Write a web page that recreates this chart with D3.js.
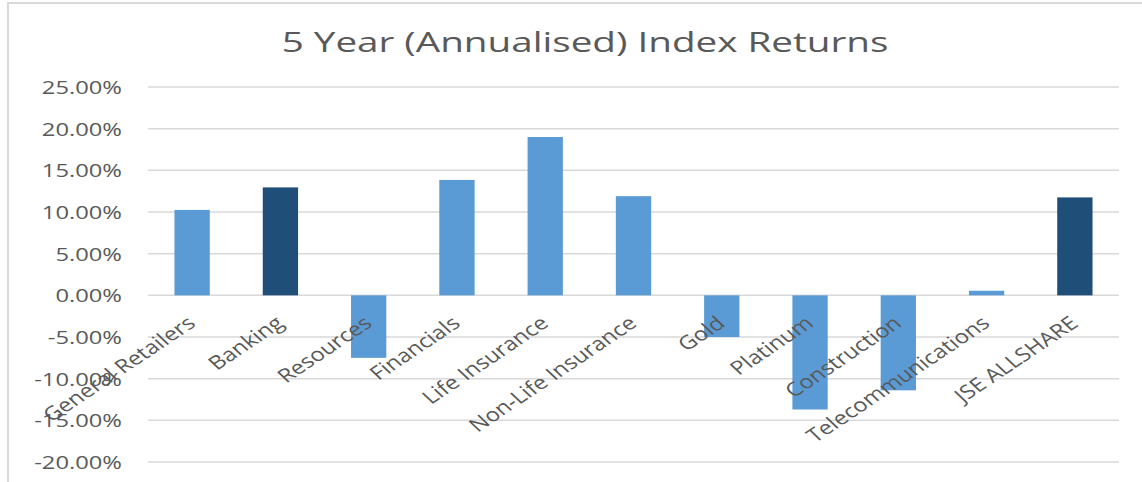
<!DOCTYPE html>
<html>
<head>
<meta charset="utf-8">
<script src="https://cdn.jsdelivr.net/npm/d3@7"></script>
<style>
  body { margin: 0; background: #fff; }
  text { font-family: "Open Sans", sans-serif; fill: #595959; }
</style>
</head>
<body>
<script>
var categories = ['General Retailers','Banking','Resources','Financials','Life Insurance','Non-Life Insurance','Gold','Platinum','Construction','Telecommunications','JSE ALLSHARE'];
var returns = [10.25, 12.95, -7.5, 13.85, 19.0, 11.9, -5.0, -13.7, -11.4, 0.55, 11.75];
var highlight = ['Banking','JSE ALLSHARE'];
var yTicks = [-20,-15,-10,-5,0,5,10,15,20,25];
var title = '5 Year (Annualised) Index Returns';

var W = 1142, H = 482;
var sx = 1.25; // text in the picture is stretched sideways
var svg = d3.select('body').append('svg').attr('width',W).attr('height',H);

// chart frame (cropped on right/bottom)
svg.append('path').attr('d','M8,' + (H+5) + 'V3H' + (W+5))
  .style('fill','none').style('stroke','#d9d9d9').style('stroke-width',2);

var x = d3.scaleBand().domain(categories).range([148,1119]).paddingInner(0.6).paddingOuter(0.3);
var y = d3.scaleLinear().domain([-20,25]).range([462,87]);

// grid
svg.append('g').selectAll('line').data(yTicks).enter().append('line')
  .attr('x1',148).attr('x2',1119)
  .attr('y1',function(d){return y(d);}).attr('y2',function(d){return y(d);})
  .style('stroke','#d9d9d9').style('stroke-width',1.5);

// y labels
svg.append('g').selectAll('text').data(yTicks).enter().append('text')
  .attr('transform',function(d){return 'translate(122,'+y(d)+') scale('+sx+',1)';})
  .attr('dy','0.36em').attr('text-anchor','end').style('font-size','19px')
  .text(function(d){return d.toFixed(2)+'%';});

// bars
svg.append('g').selectAll('rect').data(categories).enter().append('rect')
  .attr('x',function(d){return x(d);})
  .attr('width',x.bandwidth())
  .attr('y',function(d,i){return y(Math.max(0,returns[i]));})
  .attr('height',function(d,i){return Math.abs(y(returns[i])-y(0));})
  .style('fill',function(d){return highlight.indexOf(d)>=0 ? '#1f4e79' : '#5b9bd5';});

// category labels
svg.append('g').selectAll('text').data(categories).enter().append('text')
  .attr('transform',function(d){
    var cx = x(d) + x.bandwidth()/2;
    return 'translate('+(cx-6)+',315) scale('+sx+',1) rotate(-40)';
  })
  .attr('dy','0.7em').attr('text-anchor','end').style('font-size','19px')
  .text(function(d){return d;});

// title
svg.append('text')
  .attr('transform','translate(585,52) scale(1.38,1)')
  .attr('text-anchor','middle').style('font-size','28px')
  .text(title);
</script>
</body>
</html>
